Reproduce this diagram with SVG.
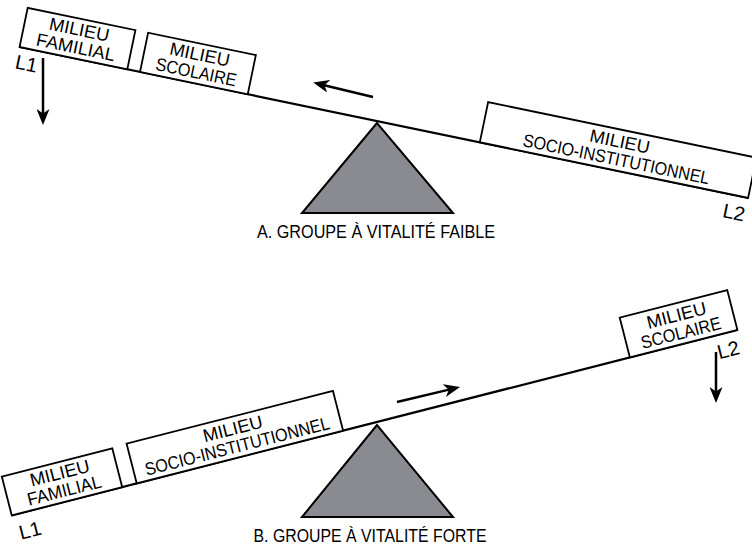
<svg xmlns="http://www.w3.org/2000/svg" width="752" height="548" viewBox="0 0 752 548">
<style>
.box{fill:#fff;stroke:#000;stroke-width:1.8}
.lbl{font-family:"Liberation Sans",Arial,sans-serif;font-size:18px;fill:#000;text-anchor:middle}
.lv{font-family:"Liberation Sans",Arial,sans-serif;font-size:20px;fill:#000}
.beam{stroke:#000;stroke-width:2.2;fill:none}
.arr{stroke:#000;stroke-width:2.5;fill:none;marker-end:url(#ah)}
.fulcrum{fill:#898b90;stroke:#000;stroke-width:2;stroke-linejoin:miter}
.cap{font-family:"Liberation Sans",Arial,sans-serif;font-size:17.5px;fill:#000;text-anchor:middle}
</style>
<defs>
<marker id="ah" markerUnits="userSpaceOnUse" markerWidth="16" markerHeight="13" refX="9" refY="6.5" orient="auto">
<path d="M0,0 L16,6.5 L0,13 L4.5,6.5 z" fill="#000"/>
</marker>
</defs>
<rect width="752" height="548" fill="#fff"/>

<!-- A: weak vitality -->
<g id="fulcrum-a"><polygon class="fulcrum" points="377,123 302,213 453,213"/></g>
<g id="beam-a" transform="translate(377,121) rotate(11.7)">
<line class="beam" x1="-365" y1="0" x2="379" y2="0"/>
</g>
<g id="a-familial" transform="translate(377,121) rotate(11.7)">
<rect class="box" x="-365" y="-40" width="110" height="40"/>
<text class="lbl" x="-310" y="-23" textLength="61" lengthAdjust="spacingAndGlyphs">MILIEU</text>
<text class="lbl" x="-310" y="-5" textLength="80" lengthAdjust="spacingAndGlyphs">FAMILIAL</text>
</g>
<g id="a-scolaire" transform="translate(377,121) rotate(11.7)">
<rect class="box" x="-242" y="-40" width="110" height="40"/>
<text class="lbl" x="-187" y="-23" textLength="61" lengthAdjust="spacingAndGlyphs">MILIEU</text>
<text class="lbl" x="-187" y="-5" textLength="82" lengthAdjust="spacingAndGlyphs">SCOLAIRE</text>
</g>
<g id="a-socio" transform="translate(377,121) rotate(11.7)">
<rect class="box" x="105" y="-41" width="274" height="41"/>
<text class="lbl" x="242" y="-23" textLength="61" lengthAdjust="spacingAndGlyphs">MILIEU</text>
<text class="lbl" x="242" y="-5" textLength="190" lengthAdjust="spacingAndGlyphs">SOCIO-INSTITUTIONNEL</text>
</g>
<g id="a-l1" transform="translate(377,121) rotate(11.7)"><text class="lv" x="-366" y="22">L1</text></g>
<g id="a-l2" transform="translate(377,121) rotate(11.7)"><text class="lv" x="357" y="24">L2</text></g>
<g id="caption-a"><text class="cap" x="376" y="238" textLength="238" lengthAdjust="spacingAndGlyphs">A. GROUPE À VITALITÉ FAIBLE</text></g>

<!-- B: strong vitality -->
<g id="fulcrum-b"><polygon class="fulcrum" points="377,425 302,517 453,517"/></g>
<g id="beam-b" transform="translate(377,422) rotate(-14.34)">
<line class="beam" x1="-377" y1="0" x2="372" y2="0"/>
</g>
<g id="b-familial" transform="translate(377,422) rotate(-14.34)">
<rect class="box" x="-377" y="-40" width="114" height="40"/>
<text class="lbl" x="-320" y="-23" textLength="61" lengthAdjust="spacingAndGlyphs">MILIEU</text>
<text class="lbl" x="-320" y="-5" textLength="76" lengthAdjust="spacingAndGlyphs">FAMILIAL</text>
</g>
<g id="b-socio" transform="translate(377,422) rotate(-14.34)">
<rect class="box" x="-248" y="-41" width="213" height="41"/>
<text class="lbl" x="-141.5" y="-23" textLength="61" lengthAdjust="spacingAndGlyphs">MILIEU</text>
<text class="lbl" x="-141.5" y="-5" textLength="190" lengthAdjust="spacingAndGlyphs">SOCIO-INSTITUTIONNEL</text>
</g>
<g id="b-scolaire" transform="translate(377,422) rotate(-14.34)">
<rect class="box" x="261" y="-41" width="111" height="41"/>
<text class="lbl" x="316.5" y="-23" textLength="61" lengthAdjust="spacingAndGlyphs">MILIEU</text>
<text class="lbl" x="316.5" y="-5" textLength="82" lengthAdjust="spacingAndGlyphs">SCOLAIRE</text>
</g>
<g id="b-l1" transform="translate(377,422) rotate(-14.34)"><text class="lv" x="-374" y="26">L1</text></g>
<g id="b-l2" transform="translate(377,422) rotate(-14.34)"><text class="lv" x="347" y="24">L2</text></g>
<g id="caption-b"><text class="cap" x="370" y="542" textLength="233" lengthAdjust="spacingAndGlyphs">B. GROUPE À VITALITÉ FORTE</text></g>

<g id="connectors">
<line class="arr" x1="373" y1="97" x2="320" y2="84.2"/>
<line class="arr" x1="43" y1="58" x2="43" y2="118"/>
<line class="arr" x1="397" y1="402" x2="453.2" y2="388.6"/>
<line class="arr" x1="716" y1="352" x2="716" y2="396"/>
</g>
</svg>
